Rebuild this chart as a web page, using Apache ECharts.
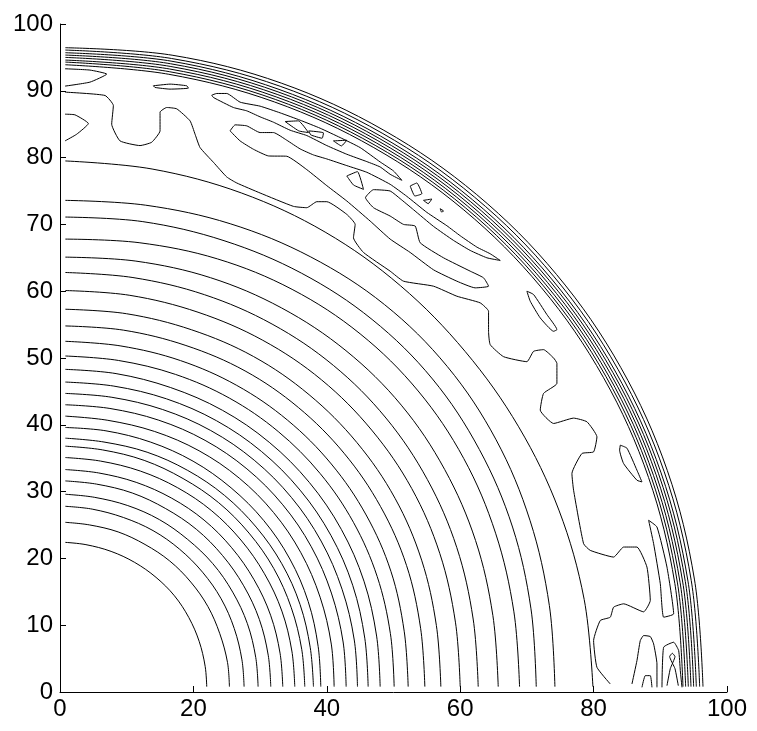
<!DOCTYPE html>
<html>
<head>
<meta charset="utf-8">
<script src="https://cdn.jsdelivr.net/npm/echarts@6/dist/echarts.min.js"></script>
<style>
  html, body { margin: 0; padding: 0; background: #ffffff; }
  #chart { width: 757px; height: 731px; }
</style>
</head>
<body>
<div id="chart"></div>
<script>
// Tick labels for both axes
const xTicks = [0, 20, 40, 60, 80, 100];
const yTicks = [0, 10, 20, 30, 40, 50, 60, 70, 80, 90, 100];

// Angles (degrees) at which each near-circular contour's radius is sampled
const ringAngles = [0, 10, 20, 30, 40, 50, 60, 70, 80, 90];

// Radius of each near-circular contour level at the angles above
const ringRadii = [
  [22.0, 22.1, 22.2, 22.3, 22.4, 22.4, 22.4, 22.4, 22.4, 22.4],
  [25.4, 25.5, 25.5, 25.6, 25.6, 25.6, 25.5, 25.5, 25.4, 25.4],
  [27.6, 27.7, 27.8, 27.9, 27.9, 27.9, 27.9, 27.8, 27.8, 27.8],
  [29.7, 29.8, 29.9, 29.9, 29.9, 29.8, 29.8, 29.7, 29.6, 29.6],
  [31.6, 31.7, 31.8, 31.8, 31.8, 31.8, 31.7, 31.7, 31.6, 31.6],
  [33.4, 33.5, 33.6, 33.6, 33.6, 33.6, 33.5, 33.4, 33.3, 33.3],
  [35.2, 35.3, 35.4, 35.4, 35.4, 35.4, 35.3, 35.2, 35.1, 35.1],
  [36.7, 36.8, 36.9, 37.0, 37.0, 37.0, 36.9, 36.9, 36.8, 36.8],
  [38.0, 38.1, 38.3, 38.4, 38.4, 38.4, 38.3, 38.2, 38.0, 38.0],
  [39.1, 39.3, 39.6, 39.8, 39.9, 39.9, 39.9, 39.8, 39.7, 39.6],
  [41.1, 41.3, 41.5, 41.7, 41.8, 41.8, 41.7, 41.5, 41.3, 41.3],
  [42.9, 43.1, 43.3, 43.5, 43.6, 43.6, 43.5, 43.3, 43.1, 43.0],
  [44.6, 44.8, 45.0, 45.2, 45.3, 45.3, 45.2, 45.0, 44.8, 44.7],
  [46.2, 46.4, 46.7, 46.9, 47.0, 47.0, 46.9, 46.7, 46.5, 46.4],
  [48.0, 48.2, 48.5, 48.7, 48.8, 48.8, 48.7, 48.5, 48.4, 48.3],
  [50.1, 50.3, 50.6, 50.8, 50.9, 50.9, 50.8, 50.6, 50.4, 50.3],
  [52.2, 52.4, 52.8, 53.0, 53.1, 53.1, 53.0, 52.8, 52.6, 52.5],
  [54.7, 54.9, 55.3, 55.5, 55.6, 55.6, 55.5, 55.2, 55.0, 54.8],
  [57.1, 57.3, 57.7, 58.0, 58.1, 58.1, 58.0, 57.7, 57.5, 57.3],
  [60.0, 60.2, 60.6, 60.9, 61.0, 61.0, 60.8, 60.5, 60.3, 60.1],
  [62.7, 62.9, 63.3, 63.6, 63.8, 63.8, 63.6, 63.3, 63.0, 62.8],
  [65.7, 65.9, 66.3, 66.6, 66.8, 66.7, 66.4, 66.0, 65.5, 65.1],
  [68.9, 69.1, 69.5, 69.9, 70.1, 70.0, 69.6, 69.0, 68.3, 67.8],
  [71.4, 71.7, 72.2, 72.6, 72.9, 72.8, 72.4, 71.9, 71.5, 71.1],
  [74.2, 74.5, 75.0, 75.5, 75.8, 75.7, 75.2, 74.6, 74.0, 73.6],
  [79.9, 79.8, 79.6, 79.4, 79.3, 79.4, 79.5, 79.5, 79.5, 79.5],
  // steep outer band
  [93.4, 93.6, 93.9, 94.1, 94.2, 94.2, 94.1, 94.0, 93.9, 93.9],
  [93.8, 94.0, 94.3, 94.5, 94.6, 94.6, 94.5, 94.4, 94.3, 94.3],
  [94.2, 94.4, 94.7, 94.9, 95.0, 95.0, 94.9, 94.8, 94.7, 94.6],
  [94.6, 94.8, 95.1, 95.3, 95.4, 95.4, 95.3, 95.2, 95.1, 95.0],
  [95.0, 95.2, 95.5, 95.7, 95.8, 95.8, 95.7, 95.6, 95.5, 95.35],
  [95.4, 95.6, 95.9, 96.1, 96.2, 96.2, 96.1, 96.0, 95.9, 95.7],
  [95.9, 96.1, 96.4, 96.6, 96.7, 96.7, 96.6, 96.5, 96.3, 96.1],
  [96.4, 96.6, 96.9, 97.1, 97.2, 97.2, 97.1, 97.0, 96.8, 96.45]
];

// First grid row / column reached by the contours
const gridStart = 0.8;

// Irregular contour pieces in the outer region, as [x, y] pairs
const wavyContour = [
  [0.75, 89.8], [6.75, 89.3], [8, 87.8], [7.75, 85], [9, 82.5], [12, 81.8], [13.75, 82.3],
  [15, 84], [15, 86.8], [16, 87.5], [17.5, 87.3], [19.5, 85.5], [20.25, 83.5], [21, 81.5],
  [23, 79.3], [25, 77.1], [26.5, 76.2], [30, 74.7], [35, 72.7], [37, 72.5], [38.5, 73.4], [40, 73.4],
  [43, 71.5], [44.25, 70], [44, 68], [45.5, 65.8], [49.5, 63.0], [51.5, 61.5], [56, 60.75],
  [59.5, 59.25], [63, 58.25], [64.25, 57], [64.25, 54], [64.5, 52], [66.5, 50.2], [70, 49.45],
  [71, 51], [72.5, 51.25], [74, 50], [74.5, 49.2], [74.5, 46.2], [72.5, 44.7], [72, 42.2],
  [74, 40.2], [77, 41], [79, 40.45], [80.5, 38.2], [80, 35.95], [78.25, 35.7], [76.75, 32.7],
  [77, 30.2], [78.5, 22.2], [79.5, 21.2], [83, 20.2], [84.5, 21.7], [86.5, 21.7], [88, 18.7],
  [88.5, 13.7], [87.5, 12], [84.5, 13.2], [83, 12.7], [82.5, 11.2], [81, 10.7], [80, 7.7],
  [80.5, 3.7], [82.5, 1.2]
];
const tongueUpper = [[0.75, 93.3], [4.5, 93.1], [7, 92.5], [4.5, 91.3], [0.75, 90.7]];
const tongueLower = [[0.75, 86.5], [2.25, 86.4], [4.25, 85.1], [2.5, 83.5], [0.75, 82.5]];
const topIsland = [[14, 90.75], [16.5, 91], [19, 90.75], [19.25, 90.4], [16.5, 90.25], [14.25, 90.5], [14, 90.75]];
const fingerA = [
  [22.75, 89.35], [23.5, 89.6], [25, 89.6], [27, 88.3], [30, 87.7], [33, 86.7], [36, 85.6],
  [39, 84.4], [42, 83], [45, 81.5], [48, 79.35], [50, 78], [51.25, 76.6], [49.5, 77.5],
  [48, 78.6], [46, 79.4], [43, 80.5], [40, 81.8], [37, 83.3], [34.5, 84.1], [32, 85.3],
  [30, 86.1], [28, 87], [26, 87.5], [23, 89], [22.75, 89.35]
];
// forked loop with two long tips reaching toward the lower right
const fingerB = [
  [25.5, 84], [26.25, 84.9], [28, 84.75], [30, 83.75], [32, 83.75], [34, 82.6], [36, 81.3],
  [38, 80.4], [40, 79.8], [43, 78.8], [46, 77.8], [49.5, 76], [52, 74.2], [55, 71.8],
  [58, 69.8], [60, 68.3], [62.5, 66.6], [64.5, 65.6], [66, 64.6],
  [64, 65.0], [61.5, 66.1], [59, 67.6], [56, 69.7], [53, 72.2], [51, 73.85], [49.5, 75],
  [47, 75.2], [45.8, 74], [47, 72.5], [49.5, 71.25], [51.5, 70], [53.25, 69.75], [54, 67.25],
  [57.5, 65], [61.5, 63], [63.5, 62], [64.25, 60.75],
  [62.25, 60.5], [59.5, 61.5], [56, 63.2], [52.5, 65.8], [49.5, 67.8], [46.5, 70.5],
  [43, 73.5], [40, 75.8], [37, 78.2], [34, 80.2], [31.25, 80.25], [29, 81.25], [27, 82.5], [25.5, 84]
];
const smallQuadA = [[33.75, 85.4], [35.75, 85.5], [37.25, 83.75], [35.8, 84.0], [33.75, 85.4]];
const smallQuadB = [[37.3, 84.0], [39.5, 83.7], [39.3, 82.9], [37.6, 83.4], [37.3, 84.0]];
const smallTriA = [[41, 82.5], [43, 82.6], [42.2, 81.75], [41, 82.5]];
const smallQuadC = [[43, 77.25], [44.6, 77.9], [45.5, 75.25], [44.0, 75.9], [43, 77.25]];
const smallQuadD = [[52.5, 75.75], [53.5, 76.2], [54.25, 74.6], [53.2, 74.25], [52.5, 75.75]];
const smallTriB = [[54.5, 73.6], [55.75, 73.8], [55.2, 73.1], [54.5, 73.6]];
const smallTriC = [[57, 72.35], [57.5, 72.0], [57.2, 71.85], [57, 72.35]];
const islandA = [[70, 60], [71, 59.5], [73, 56.5], [74.5, 54.25], [74, 54], [72, 56], [70.5, 58.5], [70, 60]];
const islandB = [[84, 36.95], [85, 36.5], [86.5, 33.2], [87.25, 31.45], [86.5, 31.7], [84.5, 34.2], [83.9, 36.2], [84, 36.95]];
const islandC = [[88.25, 25.7], [89.5, 24.7], [91, 18.7], [92, 11.7], [90.5, 11.2], [90, 16.2], [89, 22.2], [88.25, 25.7]];
const archA = [[85.75, 1.2], [86.5, 4.7], [87, 7.7], [87.5, 8.45], [88.5, 8.3], [89, 7.2], [89.5, 4.2], [89.5, 0.7]];
const archB = [[87.25, 0.7], [87.75, 2.45], [88.5, 2.45], [88.75, 0.7]];
const archC = [[90.25, 0.7], [90.5, 6.7], [92, 7.45], [92.75, 6.2], [93, 3.2], [93.25, 0.7]];
const crossing = [[91, 0.95], [91.5, 3.5], [92.2, 5.3], [91.8, 5.8], [91.4, 5.3], [92.2, 3.5], [92.7, 0.95]];

const pieces = [wavyContour, tongueUpper, tongueLower, topIsland, fingerA, fingerB,
  smallQuadA, smallQuadB, smallTriA, smallQuadC, smallQuadD, smallTriB, smallTriC,
  islandA, islandB, islandC, archA, archB, archC, crossing];

const lineStyle = { color: '#000000', width: 1 };
const series = [];

ringRadii.forEach(function (radii) {
  const pts = ringAngles.map(function (deg, i) {
    const t = deg * Math.PI / 180;
    return [radii[i] * Math.cos(t), radii[i] * Math.sin(t)];
  });
  pts[0][1] = gridStart;
  pts[pts.length - 1][0] = gridStart;
  series.push({ type: 'line', data: pts, smooth: 0.35, symbol: 'none', silent: true,
    lineStyle: lineStyle, animation: false });
});

pieces.forEach(function (pts) {
  series.push({ type: 'line', data: pts, smooth: 0.15, symbol: 'none', silent: true,
    lineStyle: lineStyle, animation: false });
});

const axisText = { color: '#000000', fontSize: 24, fontFamily: 'Liberation Sans, Arial, sans-serif' };
const chart = echarts.init(document.getElementById('chart'), null, { renderer: 'canvas' });
chart.setOption({
  backgroundColor: '#ffffff',
  animation: false,
  grid: { left: 60, top: 24, width: 667, height: 668, containLabel: false },
  xAxis: {
    type: 'value', min: 0, max: 100, interval: 20,
    axisLine: { show: true, lineStyle: { color: '#000000', width: 1 } },
    axisTick: { show: true, inside: true, length: 6, lineStyle: { color: '#000000' } },
    axisLabel: Object.assign({ margin: 5, formatter: function (v) { return xTicks.indexOf(v) >= 0 ? String(v) : ''; } }, axisText),
    splitLine: { show: false }
  },
  yAxis: {
    type: 'value', min: 0, max: 100, interval: 10,
    axisLine: { show: true, lineStyle: { color: '#000000', width: 1 } },
    axisTick: { show: true, inside: true, length: 6, lineStyle: { color: '#000000' } },
    axisLabel: Object.assign({ margin: 7, formatter: function (v) { return yTicks.indexOf(v) >= 0 ? String(v) : ''; } }, axisText),
    splitLine: { show: false }
  },
  series: series
});
</script>
</body>
</html>
